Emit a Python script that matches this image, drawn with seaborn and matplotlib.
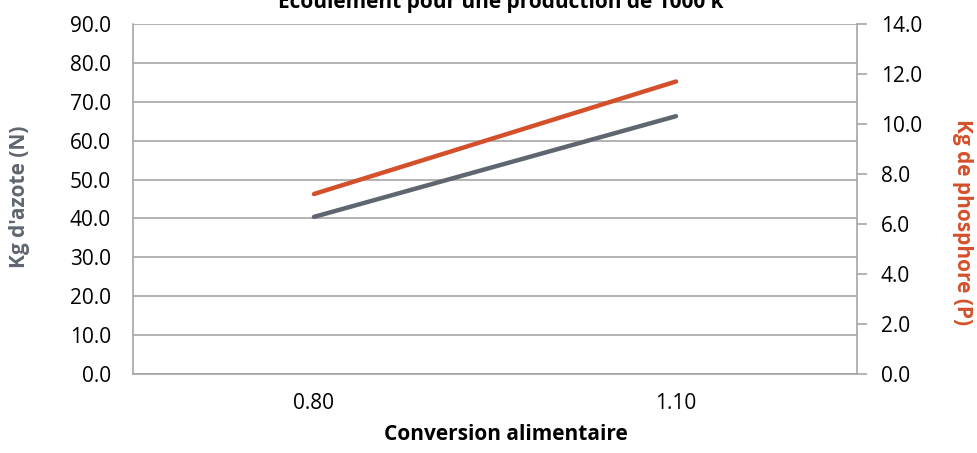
import pandas as pd
import seaborn as sns
import matplotlib.pyplot as plt

# Data
conversion = ["0.80", "1.10"]
azote_n = [40.4, 66.3]
phosphore_p = [7.2, 11.7]

grey = "#5f6670"
orange = "#d4502a"
grid_col = "#a6a6a6"

sns.set_theme(style="white")
plt.rcParams["font.family"] = ["Open Sans", "DejaVu Sans"]

df = pd.DataFrame({"Conversion": conversion, "N": azote_n, "P": phosphore_p})
df["pos"] = range(len(df))

W, H = 978, 453
fig = plt.figure(figsize=(W / 100, H / 100), dpi=100)
ax = fig.add_axes([133 / W, 1 - 374 / H, (857 - 133) / W, (374 - 24) / H])
ax2 = ax.twinx()

sns.lineplot(data=df, x="pos", y="N", ax=ax, color=grey, linewidth=3.2,
             solid_capstyle="round")
sns.lineplot(data=df, x="pos", y="P", ax=ax2, color=orange, linewidth=3.2,
             solid_capstyle="round")

ax.set_xlim(-0.5, 1.5)
ax.set_ylim(0, 90)
ax2.set_ylim(0, 14)
ax.set_yticks(range(0, 91, 10))
ax.set_yticklabels([f"{v:.1f}" for v in range(0, 91, 10)])
ax2.set_yticks(range(0, 15, 2))
ax2.set_yticklabels([f"{v:.1f}" for v in range(0, 15, 2)])
ax.set_xticks(df["pos"])
ax.set_xticklabels(conversion)

ax.grid(axis="y", color=grid_col, linewidth=1.2)
ax.set_axisbelow(True)

for a in (ax, ax2):
    a.spines["top"].set_visible(False)
    for s in a.spines.values():
        s.set_color(grid_col)
        s.set_linewidth(1.2)
ax.spines["right"].set_visible(False)
ax2.spines["left"].set_visible(False)
ax2.spines["bottom"].set_visible(False)

ax.tick_params(axis="y", length=0, pad=16, labelsize=15, colors="black")
ax.tick_params(axis="x", length=0, pad=14, labelsize=15, colors="black")
ax2.tick_params(axis="y", length=7, width=1.2, color=grid_col, pad=10,
                labelsize=15, labelcolor="black")
ax.set_xlabel("")
ax.set_ylabel("")
ax2.set_ylabel("")

# axis titles placed like the reference
fig.text(506 / W, 1 - 434 / H, "Conversion alimentaire", ha="center",
         va="center", fontsize=15, fontweight="bold", color="black")
fig.text(20 / W, 1 - 197 / H, "Kg d'azote (N)", ha="center", va="center",
         rotation=90, fontsize=15, fontweight="bold", color=grey)
fig.text(963 / W, 1 - 222 / H, "Kg de phosphore (P)", ha="center",
         va="center", rotation=270, fontsize=15, fontweight="bold",
         color=orange)

fig.text(501 / W, 1 - 8 / H, "Écoulement pour une production de 1000 k",
         ha="center", va="baseline", fontsize=15, fontweight="bold",
         color="black")

fig.savefig("out.png", dpi=100)
